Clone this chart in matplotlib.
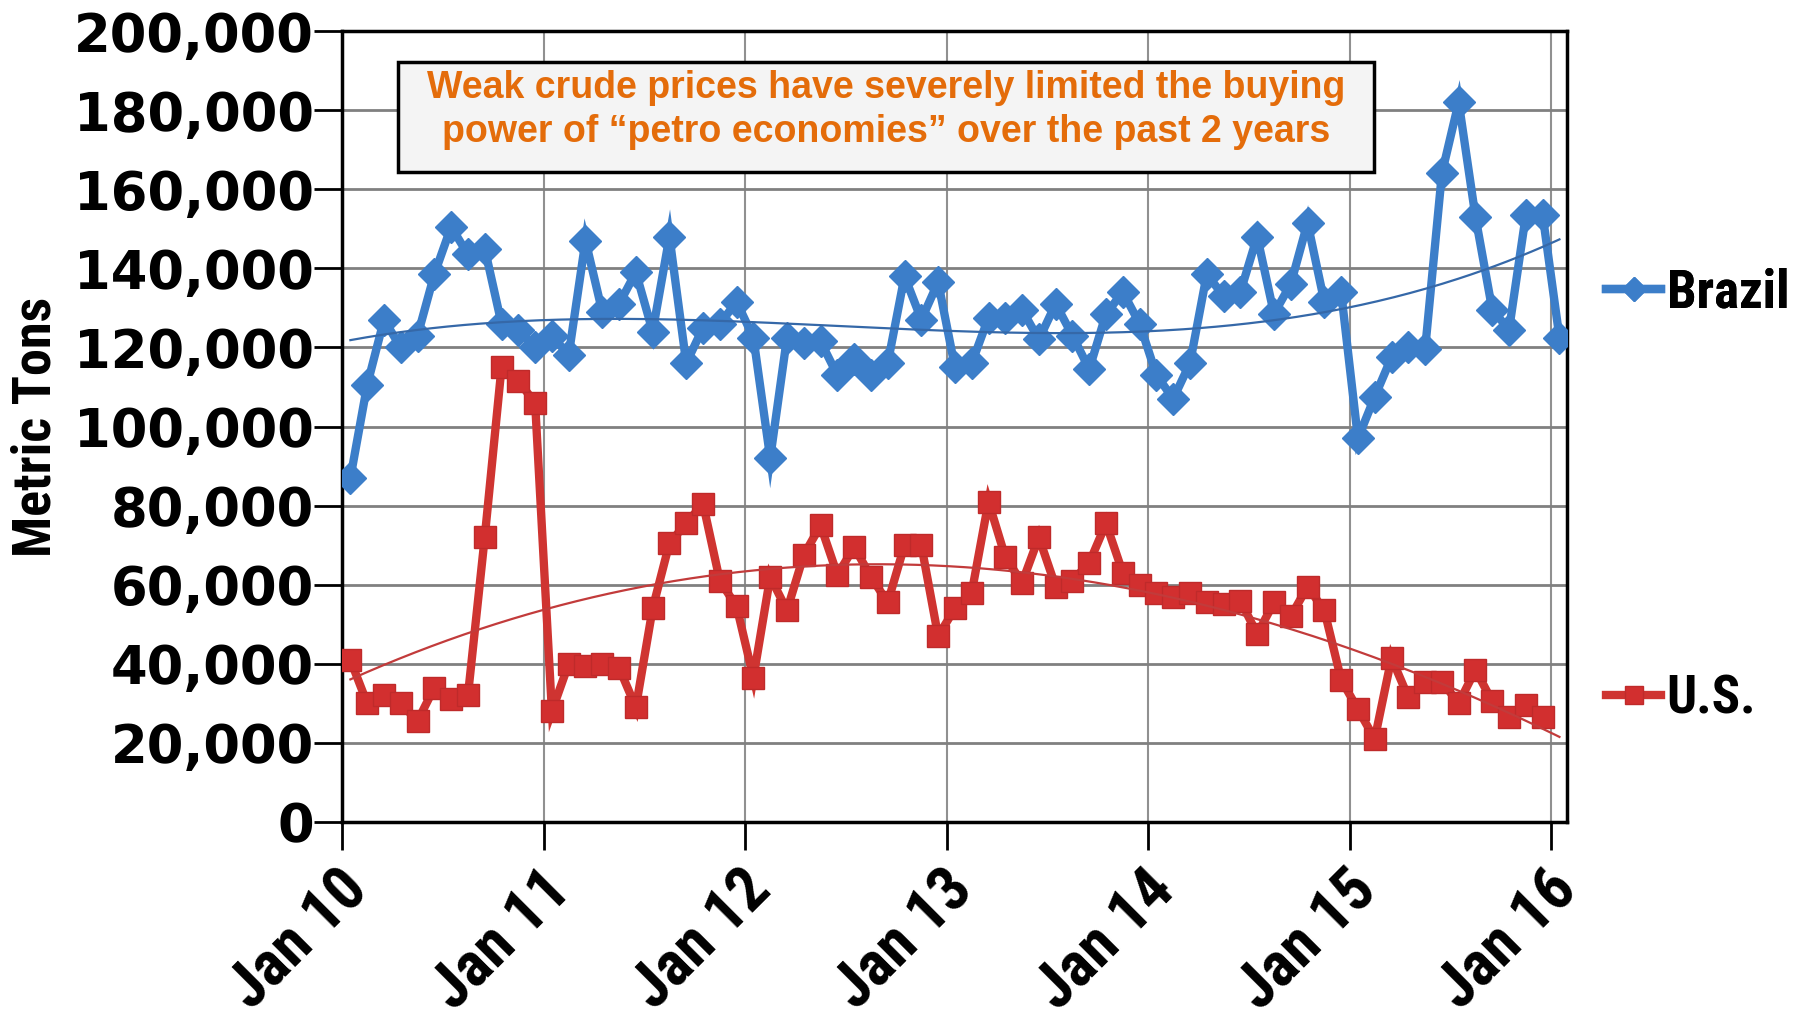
import numpy as np
import matplotlib.pyplot as plt
from matplotlib import font_manager
from matplotlib.lines import Line2D
from matplotlib.patches import Rectangle
from matplotlib.transforms import ScaledTranslation


def pick_font(names):
    for n in names:
        try:
            font_manager.findfont(font_manager.FontProperties(family=n), fallback_to_default=False)
            return n
        except Exception:
            continue
    return "DejaVu Sans"


# monthly imports, Jan 2010 .. Jan 2016 (metric tons)
brazil = [87, 110.5, 127, 120, 123, 138.5, 150.5, 143.5, 145, 126, 124.5, 120,
          123, 118, 147, 129, 131, 139, 124, 148, 116, 125, 126, 131.5,
          122.5, 92, 122.5, 121, 121.5, 113, 117, 113, 116, 138, 127, 136.5,
          115, 116, 127.5, 127.5, 129.5, 122, 131, 123, 114.5, 128.5, 134, 126,
          113, 107, 116, 138.5, 133, 134, 148, 128.5, 136, 151.5, 131.5, 134,
          97, 107.5, 117.5, 120, 119.5, 164, 182, 153, 129.5, 124.5, 153.5, 153.5,
          122.5]
us = [41, 30, 32, 30, 25.5, 34, 31, 32, 72, 115, 111.5, 106,
      28, 40, 39.5, 40, 39, 29, 54, 70.5, 75.5, 80.5, 61, 54.5,
      36.5, 62, 53.5, 67.5, 75, 62.5, 69.5, 62, 55.5, 70, 70, 47,
      54, 58, 81, 67, 60.5, 72, 59.5, 61, 65.5, 75.5, 63, 60,
      58, 57, 58, 55.5, 55, 56, 47.5, 55.5, 52, 59.5, 53.5, 36,
      28.5, 21, 41.5, 31.5, 35.5, 35.5, 30, 38.5, 30.5, 26.5, 29.5, 26.5]
brazil = np.array(brazil) * 1000
us = np.array(us) * 1000

year_labels = ["Jan 10", "Jan 11", "Jan 12", "Jan 13", "Jan 14", "Jan 15", "Jan 16"]
note = "Weak crude prices have severely limited the buying\npower of \u201cpetro economies\u201d over the past 2 years"

BLUE = "#3c7ec9"
RED = "#cf3431"
ORANGE = "#e46c0a"

narrow = pick_font(["Liberation Sans Narrow", "Roboto Condensed", "Lato"])

fig = plt.figure(figsize=(18.02, 10.25), dpi=100)
ax = fig.add_axes([342 / 1802, 1 - 822 / 1025, 1225 / 1802, 791 / 1025])

# points sit mid-month
xb = np.arange(len(brazil)) + 0.5
xu = np.arange(len(us)) + 0.5
xt = np.linspace(0.5, 72.5, 300)

ax.plot(xt, np.polyval(np.polyfit(xb, brazil, 3), xt), color="#3568a8", lw=1.6, zorder=4)
ax.plot(xt, np.polyval(np.polyfit(xu, us, 3), xt), color="#c23b3b", lw=1.6, zorder=4)

ax.plot(xb, brazil, color=BLUE, lw=6, marker="D", ms=16, mfc=BLUE, mec=BLUE,
        solid_joinstyle="miter", zorder=3)
ax.plot(xu, us, color=RED, lw=6, marker="s", ms=16, mfc="#d22f2f", mec="#bf2a2a",
        solid_joinstyle="miter", zorder=3)

ax.set_xlim(0, 72.95)
ax.set_ylim(0, 200000)
ax.set_yticks(np.arange(0, 200001, 20000))
ax.set_yticklabels([f"{v:,}" for v in range(0, 200001, 20000)],
                   fontsize=38, fontweight="bold", family="DejaVu Sans")
ax.set_xticks(np.arange(0, 73, 12))
ax.set_xticklabels(year_labels, fontsize=45, fontweight="bold", family=narrow,
                   rotation=45, ha="right", va="center", rotation_mode="anchor")
ax.tick_params(axis="y", length=20, width=2, pad=0)
ax.tick_params(axis="x", length=20, width=2, pad=22)
shift = ScaledTranslation(0.17, 0, fig.dpi_scale_trans)
for lab in ax.get_xticklabels():
    lab.set_transform(lab.get_transform() + shift)

ax.grid(axis="y", color="#808080", lw=2)
ax.grid(axis="x", color="#909090", lw=1.5)
ax.set_axisbelow(True)
for s in ax.spines.values():
    s.set_linewidth(2.5)
    s.set_color("black")

ax.set_ylabel("Metric Tons", fontsize=39, fontweight="bold", family=narrow)
ax.yaxis.set_label_coords(-0.229, 0.5)

# callout box
ax.add_patch(Rectangle((56 / 1225, 1 - 141 / 791), 976 / 1225, 110 / 791,
                       transform=ax.transAxes, facecolor="#f4f4f4", edgecolor="black",
                       lw=2.5, zorder=6))
ax.text(544 / 1225, 1 - 79 / 791, note, transform=ax.transAxes, ha="center", va="center",
        fontsize=27, fontweight="bold", family="Liberation Sans", color=ORANGE,
        linespacing=1.3, zorder=7)

# legend entries placed separately, as in the original
h_b = Line2D([], [], color=BLUE, lw=6, marker="D", ms=12, mfc=BLUE, mec=BLUE)
h_u = Line2D([], [], color=RED, lw=6, marker="s", ms=13, mfc="#d22f2f", mec="#bf2a2a")
leg_kw = dict(loc="center left", frameon=False, handlelength=1.05, handletextpad=0.1,
              borderpad=0, borderaxespad=0,
              prop=dict(family=narrow, weight="bold", size=38))
lb = fig.legend([h_b], ["Brazil"], bbox_to_anchor=(1606 / 1802, 1 - 293 / 1025), **leg_kw)
fig.add_artist(lb)
fig.legend([h_u], ["U.S."], bbox_to_anchor=(1606 / 1802, 1 - 699 / 1025), **leg_kw)

fig.savefig("out.png", dpi=100)
